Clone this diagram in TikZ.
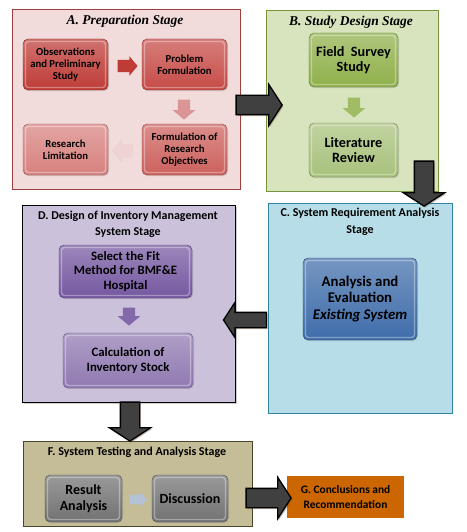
\documentclass[tikz,border=0pt]{standalone}
\usepackage{fontspec}
\setmainfont{Carlito}
\newfontfamily\cambriafont{Liberation Serif}
\usetikzlibrary{shapes.arrows,shadows}

\definecolor{prepfill}{HTML}{F2DCDB}
\definecolor{prepline}{HTML}{A0403E}
\definecolor{designfill}{HTML}{D7E4BD}
\definecolor{designline}{HTML}{77933C}
\definecolor{reqfill}{HTML}{B7DEE8}
\definecolor{reqline}{HTML}{31849B}
\definecolor{invfill}{HTML}{CCC1DA}
\definecolor{testfill}{HTML}{C4BD97}
\definecolor{testline}{HTML}{4A452A}
\definecolor{concfill}{HTML}{CC6600}
\definecolor{arrowgray}{HTML}{404040}
\definecolor{redA}{HTML}{BE3B36}
\definecolor{redB}{HTML}{C64B47}
\definecolor{redC}{HTML}{CC615D}
\definecolor{redD}{HTML}{D7817E}
\definecolor{greenA}{HTML}{8FB04A}
\definecolor{greenB}{HTML}{A8C17C}
\definecolor{blueA}{HTML}{3F6DAA}
\definecolor{purpleA}{HTML}{7558A0}
\definecolor{purpleB}{HTML}{9079B1}
\definecolor{grayA}{HTML}{727272}
\definecolor{pinkarrow}{HTML}{D99694}
\definecolor{palearrow}{HTML}{EFD3D2}
\definecolor{steelarrow}{HTML}{B4C2D6}

\begin{document}
\begin{tikzpicture}[
  x=1pt, y=-1pt,
  every node/.style={font=\bfseries, text=black},
  panel/.style={line width=.8pt, inner sep=0pt},
  stagebox/.style={rounded corners=5pt, draw=#1!70!black, line width=.4pt,
    top color=#1!72!white, bottom color=#1, align=center, inner sep=1pt,
    drop shadow={opacity=.3, shadow xshift=1pt, shadow yshift=-1.2pt},
    path picture={
      \draw[white, opacity=.35, line width=1.4pt, rounded corners=3pt]
        ([shift={(2.5,2.5)}]path picture bounding box.north west) rectangle
        ([shift={(-2.5,-2.5)}]path picture bounding box.south east);}},
  smallarrow/.style={single arrow, fill=#1, draw=none, inner xsep=0pt,
    inner ysep=6pt, single arrow head extend=5pt, single arrow tip angle=100},
  bigarrow/.style={single arrow, fill=arrowgray, draw=black, line width=1.3pt,
    inner xsep=0pt, inner ysep=9pt, single arrow head extend=11pt,
    single arrow tip angle=114,
    drop shadow={opacity=.35, fill=brown!60!black, shadow xshift=1.2pt, shadow yshift=-1.5pt}},
  stagetitle/.style={font=\cambriafont\bfseries\itshape\fontsize{13.5}{15}\selectfont},
  plaintitle/.style={align=center, font=\bfseries\fontsize{12}{16.5}\selectfont}
]

\path[use as bounding box] (0,0) rectangle (466,532);

% Stage panels.
\node[panel, draw=prepline, fill=prepfill, minimum width=228pt, minimum height=180pt]
  (prep) at (126,99) {};
\node[panel, draw=designline, fill=designfill, minimum width=172pt, minimum height=181pt]
  (design) at (352,100.5) {};
\node[panel, draw=reqline, fill=reqfill, minimum width=184pt, minimum height=210pt]
  (req) at (360,308) {};
\node[panel, draw=black, fill=invfill, minimum width=213pt, minimum height=197pt,
  drop shadow={opacity=.4, shadow xshift=1.5pt, shadow yshift=-1.5pt}]
  (inv) at (128.5,303.5) {};
\node[panel, draw=testline, fill=testfill, minimum width=229pt, minimum height=85pt]
  (test) at (137.5,483.5) {};
\node[fill=concfill, minimum width=117pt, minimum height=42pt, inner sep=0pt,
  align=center, font=\bfseries\fontsize{11.4}{15.6}\selectfont]
  (conc) at (345.5,497) {G. Conclusions and\\Recommendation};

% Stage titles.
\node[stagetitle] (preptitle) at (125,21) {A. Preparation Stage};
\node[stagetitle] (designtitle) at (351,22) {B. Study Design Stage};
\node[plaintitle] (reqtitle) at (360,222) {C. System Requirement Analysis\\Stage};
\node[plaintitle] (invtitle) at (128,224.5) {D. Design of Inventory Management\\System Stage};
\node[plaintitle] (testtitle) at (137,452) {F. System Testing and Analysis Stage};

% A. Preparation stage boxes.
\begin{scope}[every node/.append style={font=\bfseries\fontsize{10.7}{11.7}\selectfont,
    minimum width=85pt, minimum height=51pt}]
  \node[stagebox=redA] (observe) at (65.5,64.5) {Observations\\and Preliminary\\Study};
  \node[stagebox=redB] (problem) at (184.5,64.5) {Problem\\Formulation};
  \node[stagebox=redC] (objective) at (184.5,149.5) {Formulation of\\Research\\Objectives};
  \node[stagebox=redD] (limit) at (65.5,149.5) {Research\\Limitation};
\end{scope}
\node[smallarrow=redA, minimum height=20pt, single arrow head extend=3.5pt]
  (observe-problem) at (125,66) {};
\node[smallarrow=pinkarrow, minimum height=20pt, rotate=-90]
  (problem-objective) at (184,107) {};
\node[smallarrow=palearrow, draw=pinkarrow!50!white, line width=.3pt,
  minimum height=20pt, rotate=180]
  (objective-limit) at (125,151) {};

% B. Study design stage boxes.
\begin{scope}[every node/.append style={font=\bfseries\fontsize{14.2}{15}\selectfont,
    minimum width=89pt, minimum height=54pt}]
  \node[stagebox=greenA] (field) at (353.5,60) {Field~~Survey\\Study};
  \node[stagebox=greenB] (review) at (353.5,150) {Literature\\Review};
\end{scope}
\node[smallarrow=greenA!85!white, minimum height=20pt, rotate=-90]
  (field-review) at (354,105) {};

% C. System requirement analysis.
\node[stagebox=blueA, minimum width=114pt, minimum height=82pt,
  font=\bfseries\fontsize{14.8}{16.5}\selectfont]
  (existing) at (360,299) {Analysis and\\Evaluation\\\textit{Existing System}};

% D. Design of inventory management.
\begin{scope}[every node/.append style={font=\bfseries\fontsize{12.8}{14.2}\selectfont}]
  \node[stagebox=purpleA, minimum width=133pt, minimum height=53pt]
    (method) at (125.5,271.5) {Select the Fit\\Method for BMF\&E\\Hospital};
  \node[stagebox=purpleB, minimum width=130pt, minimum height=55pt]
    (stock) at (128,360.5) {Calculation of\\Inventory Stock};
\end{scope}
\node[smallarrow=purpleA!90!white, minimum height=18pt, rotate=-90]
  (method-stock) at (129,314) {};

% F. System testing and analysis.
\begin{scope}[every node/.append style={font=\bfseries\fontsize{14}{16}\selectfont,
    minimum height=47pt}]
  \node[stagebox=grayA, minimum width=77pt] (result) at (83.5,498.5) {Result\\Analysis};
  \node[stagebox=grayA, minimum width=76pt] (discuss) at (190,498.5) {Discussion};
\end{scope}
\node[smallarrow=steelarrow, minimum height=17pt, inner ysep=4.5pt,
  single arrow head extend=3pt]
  (result-discuss) at (136.5,499.5) {};

% Stage-to-stage arrows.
\node[bigarrow, minimum height=46pt] (prep-design) at (256,105) {};
\node[bigarrow, minimum height=45pt, rotate=-90] (design-req) at (424,180.5) {};
\node[bigarrow, minimum height=43pt, inner ysep=7pt, single arrow head extend=10pt,
  rotate=180] (req-inv) at (247.5,320) {};
\node[bigarrow, minimum height=39pt, rotate=-90] (inv-test) at (130,418.5) {};
\node[bigarrow, minimum height=45pt] (test-conc) at (265.5,498) {};

\end{tikzpicture}
\end{document}
